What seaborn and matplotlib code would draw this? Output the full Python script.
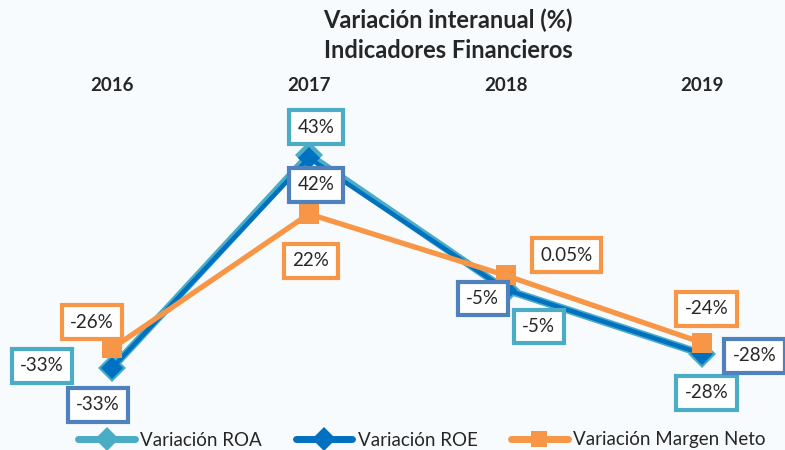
import matplotlib.pyplot as plt
import seaborn as sns
import pandas as pd

# datos
years = ['2016', '2017', '2018', '2019']
roa = [-33, 43, -5, -28]
roe = [-33, 42, -5, -28]
margen = [-26, 22, 0.05, -24]
roa_lbl = ['-33%', '43%', '-5%', '-28%']
roe_lbl = ['-33%', '42%', '-5%', '-28%']
margen_lbl = ['-26%', '22%', '0.05%', '-24%']

series = ['Variación ROA', 'Variación ROE', 'Variación Margen Neto']
colores = {'Variación ROA': '#4BACC6', 'Variación ROE': '#0070C0', 'Variación Margen Neto': '#F79646'}
bordes = {'Variación ROA': '#4BACC6', 'Variación ROE': '#4F81BD', 'Variación Margen Neto': '#F79646'}
marcas = {'Variación ROA': 'D', 'Variación ROE': 'D', 'Variación Margen Neto': 's'}
grosor = {'Variación ROA': 5.5, 'Variación ROE': 3.2, 'Variación Margen Neto': 3.8}
tam = {'Variación ROA': 14, 'Variación ROE': 11, 'Variación Margen Neto': 14}

sns.set_style('white')
plt.rcParams['font.family'] = ['Lato', 'DejaVu Sans']

fig = plt.figure(figsize=(7.85, 4.5), dpi=100, facecolor='#F8FBFD')
ax = fig.add_axes([0, 0, 1, 1])
ax.set_facecolor('#F8FBFD')

datos = {'Variación ROA': (roa, roa_lbl), 'Variación ROE': (roe, roe_lbl),
         'Variación Margen Neto': (margen, margen_lbl)}
for s in series:
    sns.lineplot(x=list(range(4)), y=datos[s][0], color=colores[s], marker=marcas[s],
                 linewidth=grosor[s], markersize=tam[s], markeredgewidth=0, ax=ax)

ax.set_xlim(-0.57, 3.42)
ax.set_ylim(-62.3, 98.4)
ax.axis('off')

for i, y in enumerate(years):
    ax.text(i, 68, y, ha='center', va='center', fontsize=13.5, fontweight='bold')

fig.text(448 / 785, 1 - 20 / 450, 'Variación interanual (%)', ha='center', va='center',
         fontsize=17, fontweight='bold')
fig.text(448 / 785, 1 - 50 / 450, 'Indicadores Financieros', ha='center', va='center',
         fontsize=17, fontweight='bold')

# etiquetas con caja (desplazamientos en pixeles)
offs = {
    'Variación ROA': [(-70, 2), (7, 28), (33, -37), (4, -39)],
    'Variación ROE': [(-14, -37), (7, -27), (-23, -9), (52, -2)],
    'Variación Margen Neto': [(-20, 26), (2, -47), (61, 20), (4, 34)],
}
for s in series:
    vals, lbls = datos[s]
    for i in range(4):
        ax.annotate(lbls[i], (i, vals[i]), xytext=offs[s][i], textcoords='offset pixels',
                    ha='center', va='center', fontsize=13.5, zorder=5,
                    bbox=dict(boxstyle='square,pad=0.45', fc='white', ec=bordes[s], lw=3))

handles = [plt.Line2D([], [], color=colores[s], marker=marcas[s], lw=5, markersize=12,
                      markeredgewidth=0) for s in series]
fig.legend(handles, series, loc='center', bbox_to_anchor=(422 / 785, 1 - 440 / 450), ncol=3,
           frameon=False, fontsize=13.5, handlelength=3.0, columnspacing=1.8, handletextpad=0.3)

plt.savefig('out.png', dpi=100, facecolor=fig.get_facecolor())
